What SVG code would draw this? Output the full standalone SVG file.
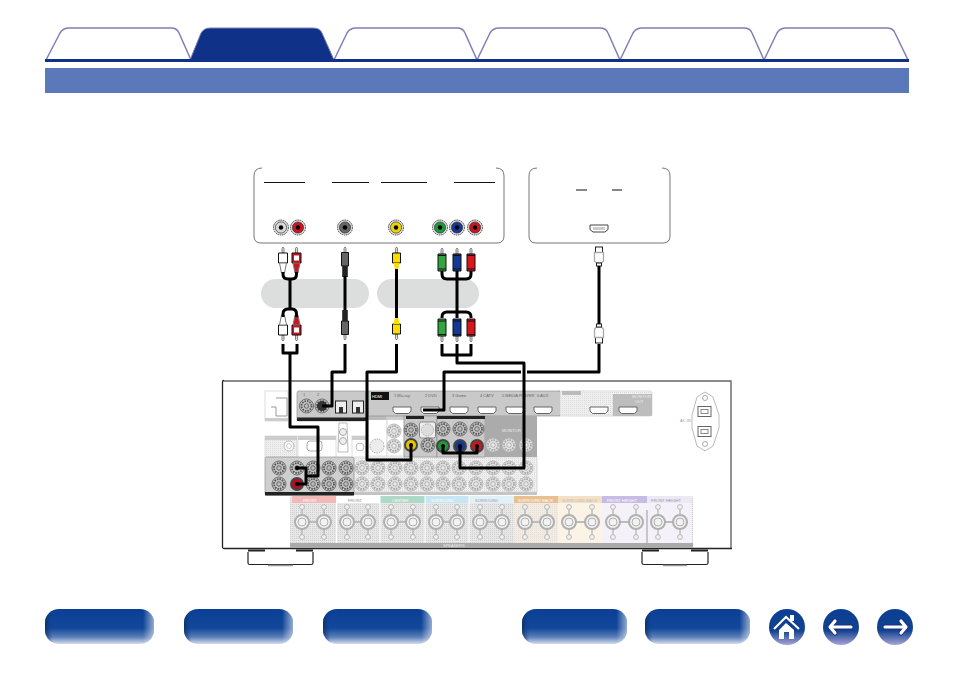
<svg xmlns="http://www.w3.org/2000/svg" xmlns:xlink="http://www.w3.org/1999/xlink" width="954" height="673" viewBox="0 0 954 673">
<style>
.tab{fill:#fff;stroke:#7f7fb8;stroke-width:1.5}
.box{fill:#fff;stroke:#777;stroke-width:1}
.ul{stroke:#111;stroke-width:1;fill:none}
.cable{fill:none;stroke:#000;stroke-width:3;stroke-linejoin:round}
.plug{stroke:#111;stroke-width:1}
.tip{fill:#ddd;stroke:#555;stroke-width:.7}
.t{font-family:"Liberation Sans",Arial,sans-serif;font-size:4px;fill:#666}
.mid{fill:#c9c9c9;stroke:#888;stroke-width:.6}
.lite{fill:url(#dots);stroke:#ddd;stroke-width:1}
.strip{fill:#222}
</style>
<defs>
<linearGradient id="v" x1="0" y1="0" x2="0" y2="1"><stop offset="0" stop-color="#0b3f95"/><stop offset=".55" stop-color="#12489b"/><stop offset=".8" stop-color="#5c7fb8"/><stop offset="1" stop-color="#d5dcec"/></linearGradient>
<linearGradient id="h" x1="0" y1="0" x2="1" y2="0"><stop offset="0" stop-color="#0c2a55" stop-opacity=".75"/><stop offset=".07" stop-color="#0b3f95" stop-opacity="0"/><stop offset=".9" stop-color="#fff" stop-opacity="0"/><stop offset="1" stop-color="#fff" stop-opacity=".55"/></linearGradient>
<linearGradient id="c" x1="0" y1="0" x2="0" y2="1"><stop offset="0" stop-color="#0b3f95"/><stop offset=".6" stop-color="#12428f"/><stop offset="1" stop-color="#a9a4d6"/></linearGradient>
<pattern id="dots" width="2" height="2" patternUnits="userSpaceOnUse"><rect width="2" height="2" fill="#f0f0f0"/><rect width="1" height="1" fill="#d8d8d8"/></pattern>
<pattern id="dots2" width="2" height="2" patternUnits="userSpaceOnUse"><rect width="2" height="2" fill="#e8e8e8"/><rect width="1" height="1" fill="#cfcfcf"/></pattern>
<g id="btn"><rect width="109" height="35" rx="14" fill="url(#v)"/><rect width="109" height="35" rx="14" fill="url(#h)"/></g>
<g id="btn2"><rect width="105" height="35" rx="14" fill="url(#v)"/><rect width="105" height="35" rx="14" fill="url(#h)"/></g>
<g id="j"><circle r="7" fill="#c4c4c4" stroke="#555" stroke-width=".8"/><circle r="5" fill="none" stroke="#555" stroke-width="1.800" stroke-dasharray="1.600 1"/><circle r="2.300" fill="#bbb" stroke="#555" stroke-width=".8"/></g>
<g id="jl"><circle r="7" fill="#e4e4e4" stroke="#aaa" stroke-width=".8"/><circle r="5" fill="none" stroke="#a4a4a4" stroke-width="1.800" stroke-dasharray="1.600 1"/><circle r="2.300" fill="#e8e8e8" stroke="#a4a4a4" stroke-width=".8"/></g>
<g id="src"><circle r="7.500" fill="#ddd" stroke="#444" stroke-width="1" stroke-dasharray="1.500 .8"/><circle r="5.600" stroke="#222" stroke-width=".6"/><circle r="2.200" fill="#000"/></g>
<g id="act"><circle r="7" fill="#444"/><circle r="5"/><circle r="2" fill="#000"/></g>
<g id="post"><circle r="7" fill="#f2f2f2" stroke="#b0b0b0" stroke-width="2"/><circle r="4" fill="#f2f2f2" stroke="#b0b0b0" stroke-width="1"/><circle cy="-15" r="2.400" fill="#f2f2f2" stroke="#aaa" stroke-width=".8"/><circle cy="15" r="2.400" fill="#f2f2f2" stroke="#aaa" stroke-width=".8"/><path d="M0 -7.600V-12.600M0 7.600V12.600" stroke="#b0b0b0" stroke-width="1.200"/></g>
<g id="hp"><path d="M0 0H18V4L15.500 6.500H2.500L0 4Z" fill="#fff" stroke="#666" stroke-width="1"/></g>
<g id="ra"><path class="tip" d="M-1 6V1.500L0 0L1 1.500V6Z"/><path class="plug" d="M-4.500 6H4.500V16H-4.500Z"/><rect x="-2.500" y="8.500" width="5" height="5" fill="#fff"/><path class="plug" style="stroke:#777" d="M-3.500 16H3.500L1.500 26H-1.500Z"/></g>
<g id="rv"><path class="tip" d="M-1 6V1.500L0 0L1 1.500V6Z"/><path class="plug" d="M-4 6H4V16H-4Z"/><path style="stroke:none" d="M-3 16H3L1.500 23H-1.500Z"/></g>
<g id="rc"><path class="tip" d="M-1 6V1.500L0 0L1 1.500V6Z"/><path class="plug" d="M-4 6H4V23H-4Z"/><path d="M-4 7.500H4M-4 21H4" stroke="#111" stroke-width="1.200"/></g>
<g id="rk"><path class="tip" d="M-1 6V1.500L0 0L1 1.500V6Z"/><path class="plug" d="M-3.500 5.500H3.500V19H-3.500Z" fill="#666"/><path d="M-2.800 19H2.800V30H-2.800Z" fill="#222"/></g>
<g id="hd"><rect x="-3.500" y="0" width="7" height="5.500" fill="#fff" stroke="#222"/><path d="M-4.500 5.500H4.500V14L2.500 16H-2.500L-4.500 14Z" fill="#fff" stroke="#aaa" stroke-width="1.300"/><rect x="-2.500" y="16" width="5" height="3" fill="#fff" stroke="#222"/></g>
</defs>
<rect width="954" height="673" fill="#fff"/>

<g id="tabs">
<path class="tab" d="M46 60L60 33Q63 28 69 28H171Q177 28 179 33L191 60Z"/>
<path class="tab" d="M334 60L347 33Q350 28 356 28H457Q463 28 465 33L477 60Z"/>
<path class="tab" d="M477 60L490 33Q493 28 499 28H600Q606 28 608 33L620 60Z"/>
<path class="tab" d="M620 60L633 33Q636 28 642 28H744Q750 28 752 33L764 60Z"/>
<path class="tab" d="M764 60L777 33Q780 28 786 28H887Q893 28 895 33L908 60Z"/>
<path d="M190 60L201 33Q204 28 210 28H313Q320 28 322 33L334 60Z" fill="#0f3288" stroke="#7f7fb8" stroke-width="1"/>
<rect x="45" y="59" width="864" height="3" fill="#0f3288"/>
</g>
<rect id="band" x="45" y="68" width="864" height="25" fill="#5a78ba"/>

<g id="source-av">
<path class="box" d="M262 168Q254 168 254 176V236Q254 243 261 243H497Q504 243 504 236V176Q504 168 496 168"/>
<path class="ul" d="M264 182.500H305M332 182.500H369M381 182.500H427M454 182.500H495"/>
<use xlink:href="#src" x="281" y="227.500" fill="#d8d8d8"/>
<use xlink:href="#src" x="298" y="227.500" fill="#c8171e"/>
<use xlink:href="#src" x="345" y="227.500" fill="#666"/>
<use xlink:href="#src" x="396" y="227.500" fill="#f0d400"/>
<use xlink:href="#src" x="440" y="227.500" fill="#1e9a38"/>
<use xlink:href="#src" x="457" y="227.500" fill="#123a94"/>
<use xlink:href="#src" x="475" y="227.500" fill="#c8171e"/>
</g>
<g id="source-hdmi">
<path class="box" d="M537 168Q529 168 529 176V236Q529 243 536 243H663Q670 243 670 236V176Q670 168 662 168"/>
<path class="ul" d="M576 190H587M612 190H622"/>
<path d="M590 225H608V229.500L605 232H593L590 229.500Z" fill="#fff" stroke="#444"/>
<rect x="593" y="227" width="12" height="3" fill="#ccc"/>
</g>
<rect id="pill-1" x="261" y="279" width="108" height="29" rx="14.500" fill="#dcdddd"/>
<rect id="pill-2" x="377" y="279" width="102" height="29" rx="14.500" fill="#dcdddd"/>

<g id="receiver">
<path d="M224 381H731V548" fill="none" stroke="#666" stroke-width="1.400"/>
<path d="M224 380.500Q222.500 380.500 222.500 382V547Q222.500 548.500 224 548.500H732" fill="none" stroke="#222" stroke-width="1.300"/>
<g id="foot-left"><path d="M248 552V563Q248 564.500 250 564.500H311Q313 564.500 313 563V552" fill="#fff" stroke="#222" stroke-width="1.200"/><path d="M268 565.500H293" stroke="#999" stroke-width="1.500"/><path d="M248 550.500H265M296 550.500H313" stroke="#222" stroke-width="2"/></g>
<g id="foot-right"><path d="M642 552V563Q642 564.500 644 564.500H706Q708 564.500 708 563V552" fill="#fff" stroke="#222" stroke-width="1.200"/><path d="M663 565.500H687" stroke="#999" stroke-width="1.500"/><path d="M642 550.500H659M691 550.500H708" stroke="#222" stroke-width="2"/></g>

<g id="panel-small"><rect class="lite" x="265" y="391" width="23" height="30" style="fill:#fff"/><path d="M276 398H287V416H276V407H271" fill="none" stroke="#999"/><rect x="265" y="418" width="23" height="3" fill="#ccc"/></g>
<g id="panel-row2">
<rect class="lite" x="265" y="436" width="32" height="22"/><rect x="265" y="436" width="32" height="4" fill="#ccc"/><circle cx="289" cy="446" r="5" fill="#fff" stroke="#bbb"/><circle cx="289" cy="446" r="2.500" fill="#fff" stroke="#ccc"/>
<rect class="lite" x="298" y="436" width="38" height="22" style="fill:#fff"/><rect x="298" y="436" width="38" height="4" fill="#ccc"/><rect x="307" y="441" width="15" height="10" rx="3" fill="#fff" stroke="#aaa"/>
<path d="M339 423H347L348 452H338Z" fill="#fff" stroke="#bbb"/><circle cx="343" cy="432" r="3.500" fill="#eee" stroke="#aaa"/><circle cx="343" cy="441" r="3.500" fill="#eee" stroke="#aaa"/>
<rect class="lite" x="352" y="436" width="16" height="22" style="fill:#fff"/><rect x="352" y="436" width="16" height="4" fill="#ccc"/><circle cx="360" cy="447" r="4" fill="#fff" stroke="#bbb"/>
<rect class="lite" x="368" y="416" width="19" height="40" style="fill:#fff"/><rect x="368" y="416" width="19" height="4" fill="#bbb"/><circle cx="377" cy="446" r="7" fill="#ececec" stroke="#aaa" stroke-dasharray="1.500 1"/>
<rect class="lite" x="387" y="416" width="17" height="40" style="fill:#fff"/><rect x="387" y="416" width="17" height="4" fill="#ccc"/><use xlink:href="#jl" x="394" y="431"/><use xlink:href="#jl" x="394" y="446"/>
</g>

<g id="panel-digital">
<rect class="mid" x="297" y="391" width="69" height="30" rx="2"/><rect class="strip" x="297" y="417.500" width="69" height="3.500"/>
<use xlink:href="#j" x="306.500" y="406"/><use xlink:href="#j" x="322" y="406"/><circle cx="322" cy="406" r="5" fill="#333"/>
<rect x="335.500" y="401" width="11" height="12" fill="#eee" stroke="#222"/><rect x="352.500" y="401" width="11" height="12" fill="#eee" stroke="#222"/><rect x="339" y="407" width="4" height="6" fill="#333"/><rect x="356" y="407" width="4" height="6" fill="#333"/>
<text class="t" x="303" y="396">1</text><text class="t" x="317" y="396">2</text>
</g>
<g id="panel-hdmi">
<rect class="mid" x="368" y="391" width="192" height="25"/>
<rect x="371" y="392" width="18" height="8" fill="#111"/><text class="t" x="372" y="397.500" style="fill:#fff">HDMI</text>
<text class="t" x="394" y="396.500">1 Blu-ray</text><text class="t" x="425" y="396.500">2 DVD</text><text class="t" x="452" y="396.500">3 Game</text><text class="t" x="480" y="396.500">4 CATV</text><text class="t" x="502" y="396.500">5 MEDIA PLAYER</text><text class="t" x="537" y="396.500">6 AUX</text>
<use xlink:href="#hp" x="393" y="407"/><use xlink:href="#hp" x="421" y="407"/><use xlink:href="#hp" x="450" y="407"/><use xlink:href="#hp" x="478" y="407"/><use xlink:href="#hp" x="506" y="407"/><use xlink:href="#hp" x="534" y="407"/>
</g>
<g id="panel-monitor">
<rect class="lite" x="560" y="391" width="92" height="25" rx="2"/>
<rect x="613" y="394" width="39" height="22" fill="#bdbdbd"/>
<rect x="562" y="391" width="19" height="4" fill="#bbb"/>
<use xlink:href="#hp" x="590" y="407"/><use xlink:href="#hp" x="619" y="407"/>
<text class="t" x="632" y="397.500" style="fill:#eee">MONITOR</text><text class="t" x="635" y="402.500" style="fill:#eee">OUT</text>
</g>
<g id="ac-inlet">
<path d="M705 392L713 397L719 415V428L713 446L705 451L697 446L692 428V415L697 397Z" fill="#fff" stroke="#bbb"/>
<circle cx="705" cy="398" r="2.500" fill="#fff" stroke="#aaa"/><circle cx="705" cy="444" r="2.500" fill="#fff" stroke="#aaa"/>
<rect x="698" y="406.500" width="13" height="10" fill="#fff" stroke="#666"/><rect x="701" y="409.500" width="7" height="4" fill="#fff" stroke="#888"/>
<rect x="698" y="426.500" width="13" height="10" fill="#fff" stroke="#666"/><rect x="701" y="429.500" width="7" height="4" fill="#fff" stroke="#888"/>
<text class="t" x="680" y="422" style="fill:#999">AC IN</text>
</g>
<g id="panel-lower">
<rect class="lite" x="354" y="457" width="183" height="35"/><rect x="354" y="492" width="183" height="3" fill="#c4c4c4"/>
<use xlink:href="#jl" x="362" y="468"/><use xlink:href="#jl" x="378" y="468"/><use xlink:href="#jl" x="395" y="468"/><use xlink:href="#jl" x="411" y="468"/><use xlink:href="#jl" x="427" y="468"/><use xlink:href="#jl" x="443" y="468"/><use xlink:href="#jl" x="459" y="468"/><use xlink:href="#jl" x="476" y="468"/><use xlink:href="#jl" x="493" y="468"/><use xlink:href="#jl" x="509" y="468"/><use xlink:href="#jl" x="526" y="468"/>
<use xlink:href="#jl" x="362" y="484"/><use xlink:href="#jl" x="378" y="484"/><use xlink:href="#jl" x="395" y="484"/><use xlink:href="#jl" x="411" y="484"/><use xlink:href="#jl" x="427" y="484"/><use xlink:href="#jl" x="443" y="484"/><use xlink:href="#jl" x="459" y="484"/><use xlink:href="#jl" x="476" y="484"/><use xlink:href="#jl" x="493" y="484"/><use xlink:href="#jl" x="509" y="484"/><use xlink:href="#jl" x="526" y="484"/>
</g>
<g id="panel-video">
<rect class="mid" x="404" y="416" width="33" height="41"/><rect class="strip" x="406" y="416" width="18" height="3"/>
<use xlink:href="#j" x="411" y="430"/><rect x="419.500" y="422" width="16" height="16" rx="2" fill="#eee" stroke="#888"/><circle cx="427.500" cy="430" r="6" fill="#ddd" stroke="#aaa" stroke-dasharray="1.500 1"/>
<use xlink:href="#act" x="411" y="445" fill="#e8c400"/><use xlink:href="#j" x="428" y="445"/>
</g>
<g id="panel-component">
<rect class="mid" x="437" y="416" width="48" height="41"/><rect class="strip" x="437" y="416" width="48" height="3"/>
<use xlink:href="#j" x="443" y="429"/><use xlink:href="#j" x="460" y="429"/><use xlink:href="#j" x="477" y="429"/>
<use xlink:href="#act" x="443" y="446" fill="#1e9a38"/><use xlink:href="#act" x="460" y="446" fill="#123a94"/><use xlink:href="#act" x="477" y="446" fill="#c8171e"/>
</g>
<g id="panel-monitor-out">
<rect x="485" y="416" width="52" height="41" fill="#ababab"/>
<use xlink:href="#jl" x="493" y="445"/><use xlink:href="#jl" x="509" y="445"/><use xlink:href="#jl" x="526" y="445"/>
<text class="t" x="502" y="432" style="fill:#eee">MONITOR</text>
</g>
<g id="panel-analog">
<rect class="mid" x="265" y="457" width="89" height="38" rx="2" style="fill:#cfcfcf"/><rect class="strip" x="265" y="492" width="89" height="3.500"/>
<use xlink:href="#j" x="279" y="468"/><use xlink:href="#j" x="297" y="468"/><use xlink:href="#j" x="313" y="468"/><use xlink:href="#j" x="329" y="468"/><use xlink:href="#j" x="346" y="468"/>
<use xlink:href="#j" x="279" y="484"/><use xlink:href="#act" x="297" y="484" fill="#b3101c"/><use xlink:href="#j" x="313" y="484"/><use xlink:href="#j" x="329" y="484"/><use xlink:href="#j" x="346" y="484"/>
<circle cx="297" cy="468" r="2" fill="#000"/>
</g>
<g id="panel-speakers">
<rect x="290" y="496" width="403" height="52" rx="2" fill="url(#dots2)"/>
<rect x="290" y="543" width="403" height="5" fill="#aaa"/>
<rect x="292" y="496" width="44" height="7" fill="#f2b9b6"/><rect x="337" y="496" width="43" height="7" fill="#fff"/><rect x="380" y="496" width="45" height="7" fill="#aed8c8"/><rect x="425" y="496" width="44" height="7" fill="#c6e6f3"/><rect x="469" y="496" width="45" height="7" fill="#e2f1f8"/><rect x="514" y="496" width="44" height="7" fill="#e8c090"/><rect x="558" y="496" width="44" height="7" fill="#f4e0c4"/><rect x="602" y="496" width="45" height="7" fill="#c6bce4"/><rect x="647" y="496" width="45" height="7" fill="#ece8f4"/>
<rect x="514" y="503" width="44" height="40" fill="#f6ecdf" opacity=".6"/><rect x="558" y="503" width="44" height="40" fill="#fbf3e6"/><rect x="602" y="503" width="90" height="40" fill="#f4f2f8"/>
<path d="M336.500 496V543M380 496V543M425 496V543M469 496V543" stroke="#fff"/><path d="M647 510V543" stroke="#999"/>
<text class="t" x="303" y="501.500" style="fill:#fff">FRONT</text><text class="t" x="348" y="501.500" style="fill:#888">FRONT</text><text class="t" x="392" y="501.500" style="fill:#fff">CENTER</text><text class="t" x="431" y="501.500" style="fill:#fff">SURROUND</text><text class="t" x="475" y="501.500" style="fill:#999">SURROUND</text><text class="t" x="518" y="501.500" style="fill:#fff">SURROUND BACK</text><text class="t" x="562" y="501.500" style="fill:#bbb">SURROUND BACK</text><text class="t" x="607" y="501.500" style="fill:#fff">FRONT HEIGHT</text><text class="t" x="651" y="501.500" style="fill:#999">FRONT HEIGHT</text>
<path d="M309 522H317M354 522H361M398 522H406M443 522H450M487 522H495M532 522H540M576 522H585M620 522H629M665 522H673" stroke="#bbb" stroke-width="2"/>
<g><use xlink:href="#post" x="302" y="522"/><use xlink:href="#post" x="324" y="522"/><use xlink:href="#post" x="347" y="522"/><use xlink:href="#post" x="368" y="522"/><use xlink:href="#post" x="391" y="522"/><use xlink:href="#post" x="413" y="522"/><use xlink:href="#post" x="436" y="522"/><use xlink:href="#post" x="457" y="522"/><use xlink:href="#post" x="480" y="522"/><use xlink:href="#post" x="502" y="522"/><use xlink:href="#post" x="525" y="522"/><use xlink:href="#post" x="547" y="522"/><use xlink:href="#post" x="569" y="522"/><use xlink:href="#post" x="592" y="522"/><use xlink:href="#post" x="613" y="522"/><use xlink:href="#post" x="636" y="522"/><use xlink:href="#post" x="658" y="522"/><use xlink:href="#post" x="680" y="522"/></g>
<text class="t" x="443" y="547" style="fill:#eee">SPEAKERS</text>
</g>
</g>

<g id="plugs">
<use xlink:href="#ra" x="283" y="247" fill="#fff"/><use xlink:href="#ra" x="296.500" y="247" fill="#c8171e"/>
<use xlink:href="#ra" transform="translate(283 341) scale(1 -1)" fill="#fff"/><use xlink:href="#ra" transform="translate(296.500 341) scale(1 -1)" fill="#c8171e"/>
<use xlink:href="#rk" x="345" y="247"/><use xlink:href="#rk" transform="translate(345 340) scale(1 -1)"/>
<use xlink:href="#rv" x="396.500" y="247" fill="#fadc00"/><use xlink:href="#rv" transform="translate(396.500 340) scale(1 -1)" fill="#fadc00"/>
<use xlink:href="#rc" x="442" y="248" fill="#32a63c"/><use xlink:href="#rc" x="457" y="248" fill="#123a94"/><use xlink:href="#rc" x="471" y="248" fill="#d8161c"/>
<use xlink:href="#rc" transform="translate(442 342) scale(1 -1)" fill="#32a63c"/><use xlink:href="#rc" transform="translate(457 342) scale(1 -1)" fill="#123a94"/><use xlink:href="#rc" transform="translate(471 342) scale(1 -1)" fill="#d8161c"/>
<use xlink:href="#hd" x="599" y="247"/><use xlink:href="#hd" transform="translate(599 343) scale(1 -1)"/>
</g>

<g id="connectors">
<path class="cable" d="M283 272V274Q283 279 288 279H292Q296.500 279 296.500 274V272M290 279V309M283 317V314Q283 309 288 309H292Q296.500 309 296.500 314V317"/>
<path class="cable" d="M345 276V310"/>
<path class="cable" d="M396.500 269V318"/>
<path class="cable" d="M442 271V274Q442 279 447 279H466Q471 279 471 274V271M457 271V318M442 318V317Q442 312 447 312H466Q471 312 471 317V318"/>
<path class="cable" d="M599 266V324"/>
<path class="cable" d="M283 344V353H297V344M290 353V427H318V476H306M296 468H306V484H296"/>
<path class="cable" d="M345 344V372H332V406H322"/>
<path class="cable" d="M396.500 344V372H367V460H411V445"/>
<path class="cable" d="M442 344V355H471V344M457 344V363H524V468H460V446M443 446V453H477V446"/>
<path class="cable" d="M599 344V372H527M521 372H444V410H423"/>
</g>

<g id="nav">
<use xlink:href="#btn" x="45" y="609"/><use xlink:href="#btn" x="184" y="609"/><use xlink:href="#btn" x="323" y="609"/><use xlink:href="#btn2" x="522" y="609"/><use xlink:href="#btn2" x="645" y="609"/>
<g id="nav-home"><circle cx="787" cy="627" r="18" fill="url(#c)"/><path d="M774 629L786 617L799 629" fill="none" stroke="#fff" stroke-width="2"/><rect x="790" y="615" width="4" height="6" fill="#fff"/><path d="M779 630L786 623L794 630V639H789V632H784V639H779Z" fill="#fff"/></g>
<g id="nav-back"><circle cx="841" cy="627" r="18" fill="url(#c)"/><path d="M835 621L830 627L835 633M831 627H851" fill="none" stroke="#1a2f80" stroke-width="5" stroke-linecap="round" stroke-linejoin="round"/><path d="M835 621L830 627L835 633M831 627H851" fill="none" stroke="#fff" stroke-width="3.200" stroke-linecap="round" stroke-linejoin="round"/></g>
<g id="nav-next"><circle cx="895" cy="627" r="18" fill="url(#c)"/><path d="M901 621L906 627L901 633M905 627H885" fill="none" stroke="#1a2f80" stroke-width="5" stroke-linecap="round" stroke-linejoin="round"/><path d="M901 621L906 627L901 633M905 627H885" fill="none" stroke="#fff" stroke-width="3.200" stroke-linecap="round" stroke-linejoin="round"/></g>
</g>
</svg>
